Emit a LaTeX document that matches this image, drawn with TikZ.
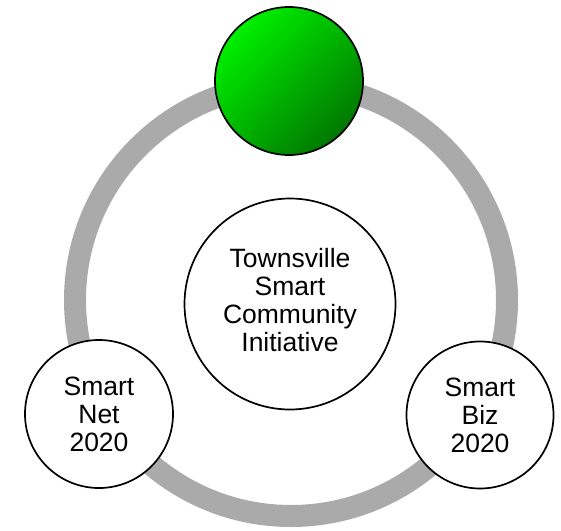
\documentclass[tikz,border=0pt]{standalone}
\usepackage{fontspec}
\setmainfont{Liberation Sans}
\definecolor{ringgray}{RGB}{170,170,170}
\definecolor{greenlight}{RGB}{0,240,0}
\definecolor{greendark}{RGB}{0,120,0}
\tikzset{
  ringline/.style={draw=ringgray, line width=22pt},
  bubble/.style={circle, draw=black, line width=1.7pt, fill=white, inner sep=0pt,
    align=center, font=\fontsize{26.5}{28}\selectfont},
  txt/.style={align=center, inner sep=0pt, font=\fontsize{26.5}{28}\selectfont}
}
\begin{document}
\begin{tikzpicture}[x=1pt,y=-1pt]
\useasboundingbox (0,0) rectangle (561,530);
\coordinate (ringc) at (291,300);
\draw[ringline] (ringc) circle[radius=216];
\node[bubble, minimum size=148pt, top color=greenlight, bottom color=greendark, shading angle=45] (green) at (289,81) {};
\node[bubble, minimum size=211pt] (center) at (290,304) {};
\node[txt] (ctext) at ([yshift=4pt]center.center) {Townsville\\Smart\\Community\\Initiative};
\node[bubble, minimum size=148pt] (net) at (99,414) {Smart\\Net\\2020};
\node[bubble, minimum size=147pt] (biz) at (480,415) {Smart\\Biz\\2020};
\end{tikzpicture}
\end{document}
